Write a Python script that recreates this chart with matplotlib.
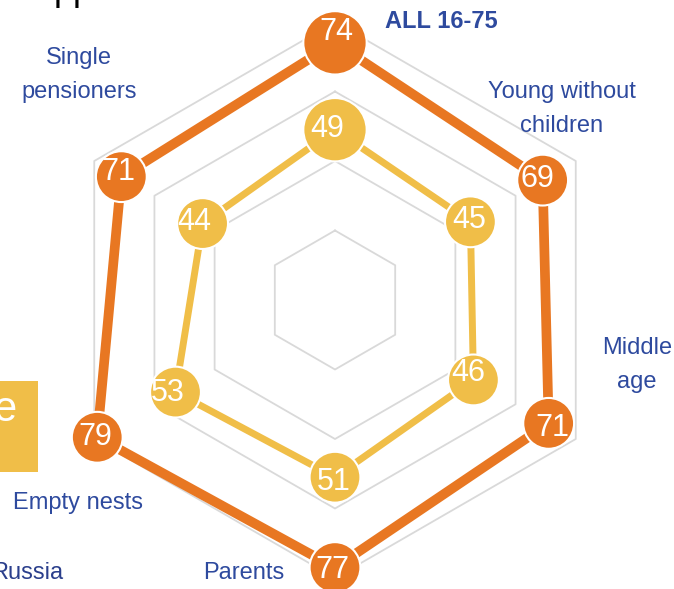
import numpy as np
import matplotlib.pyplot as plt
from matplotlib.patches import Rectangle

plt.rcParams['font.family'] = ['Liberation Sans', 'DejaVu Sans']

# Data (clockwise from the top)
groups = ['ALL 16-75', 'Young without\nchildren', 'Middle\nage',
          'Parents', 'Empty nests', 'Single\npensioners']
orange_vals = [74, 69, 71, 77, 79, 71]
yellow_vals = [49, 45, 46, 51, 53, 44]
rings = [20, 40, 60, 80]

# Colours
ORANGE = '#E87722'
YELLOW = '#F0BE48'
BLUE = '#2E4A9E'
GRID = '#D9D9D9'

# Layout in pixels
W, H = 674, 589
CX, CY = 335, 300      # centre of the web
SCALE = 3.475          # pixels per value unit

fig = plt.figure(figsize=(W / 100, H / 100), dpi=100)
ax = fig.add_axes([0, 0, 1, 1])
ax.set_xlim(-CX / SCALE, (W - CX) / SCALE)
ax.set_ylim(-(H - CY) / SCALE, CY / SCALE)
ax.axis('off')

angles = np.arange(len(groups)) * np.pi / 3


def xy(vals):
    v = np.asarray(vals, dtype=float)
    return v * np.sin(angles), v * np.cos(angles)


def px(x, y):
    # pixel position (from top-left) -> data coords
    return (x - CX) / SCALE, (CY - y) / SCALE


def closed(a):
    return np.append(a, a[0])


# hexagonal grid
for r in rings:
    gx, gy = xy([r] * len(groups))
    ax.plot(closed(gx), closed(gy), color=GRID, lw=1.3, zorder=1)

# series lines
ox, oy = xy(orange_vals)
yx, yy = xy(yellow_vals)
ax.plot(closed(ox), closed(oy), color=ORANGE, lw=7, zorder=2,
        solid_joinstyle='round')
ax.plot(closed(yx), closed(yy), color=YELLOW, lw=5, zorder=2,
        solid_joinstyle='round')

# markers, the "ALL" point is larger
sizes = [2080] + [1340] * (len(groups) - 1)
ax.scatter(ox, oy, s=sizes, color=ORANGE, edgecolor='white', lw=1.5, zorder=3)
ax.scatter(yx, yy, s=sizes, color=YELLOW, edgecolor='white', lw=1.5, zorder=3)

# value labels (small pixel nudges like the original)
orange_off = [(1, 11), (-5, 1), (4, -5), (-3, -2), (-2, 0), (-3, 5)]
yellow_off = [(-8, 1), (-1, 2), (-5, 7), (-1, -5), (-8, -1), (-8, 2)]
for x, y, v, o in zip(ox, oy, orange_vals, orange_off):
    ax.annotate(str(v), (x, y), xytext=o, textcoords='offset pixels',
                ha='center', va='center', color='white', fontsize=22, zorder=4)
for x, y, v, o in zip(yx, yy, yellow_vals, yellow_off):
    ax.annotate(str(v), (x, y), xytext=o, textcoords='offset pixels',
                ha='center', va='center', color='white', fontsize=22, zorder=4)

# category labels
label_pos = [(385, 22, 'left'), (562, 109, 'center'), (637, 365, 'center'),
             (284, 573, 'right'), (78, 503, 'center'), (79, 75, 'center')]
for g, (lx, ly, ha) in zip(groups, label_pos):
    bold = g.startswith('ALL')
    ax.text(*px(lx, ly), g, ha=ha, va='center', color=BLUE, fontsize=17,
            fontweight='bold' if bold else 'normal', linespacing=1.7, zorder=4)

# cropped bits of the surrounding slide
ax.text(*px(54, 0.5), 'pp', ha='left', va='baseline', color='black', fontsize=26)
bx0, by0 = px(0, 472)
bx1, by1 = px(38, 381)
ax.add_patch(Rectangle((bx0, by0), bx1 - bx0, by1 - by0, color=YELLOW, lw=0, zorder=1))
ax.text(*px(16, 410), 'e', ha='right', va='center', color='white', fontsize=30, zorder=4)
ax.text(*px(63, 573), 'Russia', ha='right', va='center', color='#2B3F8C', fontsize=17)

plt.savefig('out.png', dpi=100)
